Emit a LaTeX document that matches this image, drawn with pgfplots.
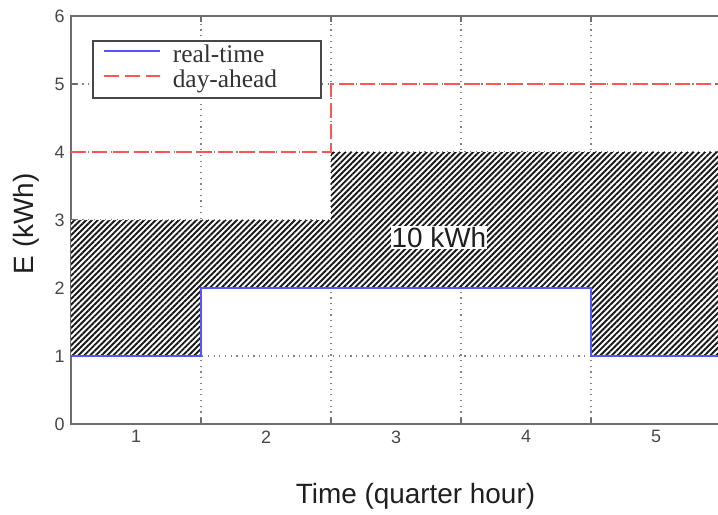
\documentclass[border=0pt]{standalone}
\usepackage{fontspec}
\setmainfont{Liberation Sans}
\newfontfamily\legfont{Liberation Serif}
\usepackage{pgfplots}
\pgfplotsset{compat=1.18}
\usetikzlibrary{patterns.meta}
\definecolor{rtblue}{RGB}{85,85,255}
\definecolor{dared}{RGB}{255,85,85}
\definecolor{spine}{RGB}{110,110,110}
\definecolor{gridc}{RGB}{130,130,130}
\begin{document}
\begin{tikzpicture}
\useasboundingbox (0,0) rectangle (718bp,515bp);
\begin{axis}[
  at={(71bp,91bp)}, anchor=south west,
  scale only axis, width=650bp, height=408bp,
  xmin=0, xmax=5, ymin=0, ymax=6,
  xtick={1,2,3,4}, xticklabels={},
  extra x ticks={0.5,1.5,2.5,3.5,4.5},
  extra x tick labels={1,2,3,4,5},
  extra x tick style={grid=none, major tick length=0pt},
  ytick={0,1,2,3,4,5,6},
  grid=major,
  grid style={gridc, line width=1.2bp, dash pattern=on 1.2bp off 4.5bp},
  axis line style={spine, line width=2bp},
  tick style={spine, line width=1.6bp},
  major tick length=6bp,
  tick align=inside,
  /pgf/number format/assume math mode=true,
  ticklabel style={font=\fontsize{18}{21}\selectfont, text=black!72},
  xticklabel style={yshift=-3bp},
  yticklabel style={xshift=-3bp},
  xlabel={Time (quarter hour)},
  ylabel={E (kWh)},
  label style={font=\fontsize{28}{32}\selectfont, text=black!88},
  xlabel style={at={(axis description cs:0.53,-0.194)}, anchor=base},
  ylabel style={at={(axis description cs:-0.058,0.491)}, anchor=base, rotate=0},
  legend cell align=left,
  legend style={at={(axis description cs:0.0323,0.941)}, anchor=north west,
    draw=black!72, line width=1.6bp, fill=white,
    inner xsep=10bp, inner ysep=5bp,
    font=\legfont\fontsize{25.5}{29}\selectfont, text=black!80,
    nodes={inner sep=0pt, text height=17bp, text depth=5bp},
    column sep=12bp, row sep=3bp,
    /tikz/column 2/.style={text width=138bp}},
  legend image code/.code={\draw[#1] (0bp,6bp) -- (56bp,6bp);},
]
\addplot[draw=none, fill=white, forget plot,
  postaction={pattern={Lines[angle=45,distance=4.1bp,line width=1.9bp]}, pattern color=black!90}]
  coordinates {(0,1) (1,1) (1,2) (4,2) (4,1) (5,1) (5,4) (2,4) (2,3) (0,3)} -- cycle;
\addplot[rtblue, line width=2bp, const plot, mark=none] coordinates {(0,1) (1,2) (4,1) (5,1)};
\addlegendentry{real-time}
\addplot[dared, line width=2bp, const plot, mark=none, dash pattern=on 15bp off 6bp] coordinates {(0,4) (2,5) (5,5)};
\addlegendentry{day-ahead}
\node[fill=white, inner sep=1bp, font=\fontsize{28}{31}\selectfont, text=black!88] at (axis cs:2.83,2.74) {10 kWh};
\end{axis}
\end{tikzpicture}
\end{document}
